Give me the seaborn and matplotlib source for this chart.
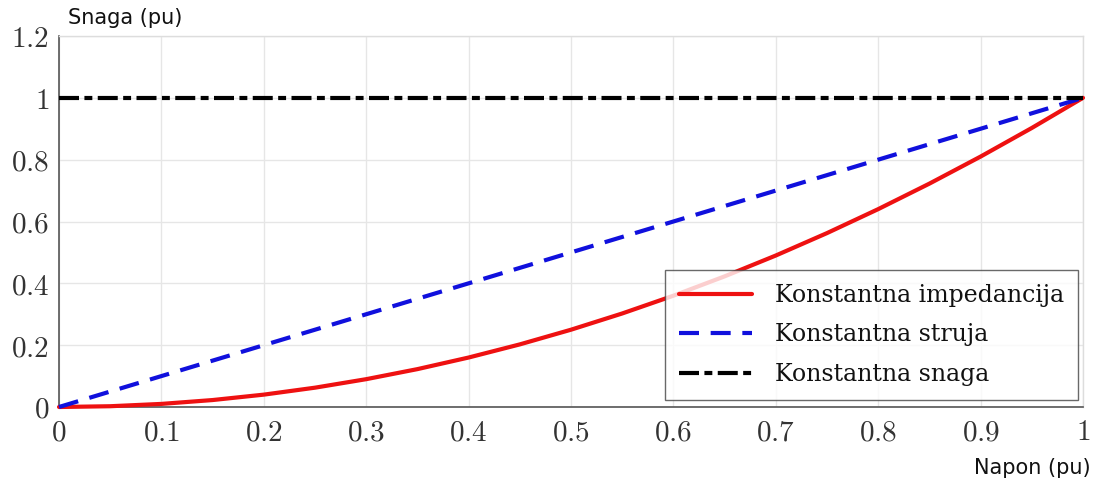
import matplotlib
matplotlib.use("Agg")
import matplotlib.pyplot as plt
import seaborn as sns
import pandas as pd

# Data
napon = [0.0, 0.05, 0.1, 0.15, 0.2, 0.25, 0.3, 0.35, 0.4, 0.45, 0.5,
         0.55, 0.6, 0.65, 0.7, 0.75, 0.8, 0.85, 0.9, 0.95, 1.0]
konst_impedancija = [0.0, 0.0025, 0.01, 0.0225, 0.04, 0.0625, 0.09, 0.1225, 0.16, 0.2025, 0.25,
                     0.3025, 0.36, 0.4225, 0.49, 0.5625, 0.64, 0.7225, 0.81, 0.9025, 1.0]
konst_struja = [0.0, 0.05, 0.1, 0.15, 0.2, 0.25, 0.3, 0.35, 0.4, 0.45, 0.5,
                0.55, 0.6, 0.65, 0.7, 0.75, 0.8, 0.85, 0.9, 0.95, 1.0]
konst_snaga = [1.0] * len(napon)

labels = ["Konstantna impedancija", "Konstantna struja", "Konstantna snaga"]
x_ticks = [0, 0.1, 0.2, 0.3, 0.4, 0.5, 0.6, 0.7, 0.8, 0.9, 1]
x_tick_labels = ["0", "0.1", "0.2", "0.3", "0.4", "0.5", "0.6", "0.7", "0.8", "0.9", "1"]
y_ticks = [0, 0.2, 0.4, 0.6, 0.8, 1, 1.2]
y_tick_labels = ["0", "0.2", "0.4", "0.6", "0.8", "1", "1.2"]

df = pd.DataFrame({"Napon": napon, labels[0]: konst_impedancija,
                   labels[1]: konst_struja, labels[2]: konst_snaga})

sns.set_style("white")
plt.rcParams["mathtext.fontset"] = "cm"

fig = plt.figure(figsize=(11.01, 4.87), dpi=100)
ax = fig.add_axes([59 / 1101, 1 - 407 / 487, (1083 - 59) / 1101, (407 - 36) / 487])

lw = 3.0
sns.lineplot(data=df, x="Napon", y=labels[0], ax=ax, color="#ee1111", lw=lw,
             label=labels[0], clip_on=False, zorder=3)
sns.lineplot(data=df, x="Napon", y=labels[1], ax=ax, color="#1010dd", lw=lw,
             label=labels[1], clip_on=False, zorder=4)
sns.lineplot(data=df, x="Napon", y=labels[2], ax=ax, color="black", lw=lw,
             label=labels[2], clip_on=False, zorder=5)
lines = ax.get_lines()
lines[1].set_dashes((4.8, 2.8))
lines[2].set_dashes((4.8, 1.3, 1.9, 1.3))

ax.set_xlim(0, 1)
ax.set_ylim(0, 1.2)
ax.set_xticks(x_ticks)
ax.set_xticklabels(["$" + t + "$" for t in x_tick_labels])
ax.set_yticks(y_ticks)
ax.set_yticklabels(["$" + t + "$" for t in y_tick_labels])
ax.tick_params(axis="both", direction="in", length=5, width=1, color="#555555",
               labelsize=21, labelcolor="#333333")
ax.tick_params(axis="x", pad=8)
ax.tick_params(axis="y", pad=7)
ax.grid(True, color="#e6e6e6", lw=1)
ax.set_axisbelow(True)
for s in ["left", "bottom"]:
    ax.spines[s].set_color("#555555")
    ax.spines[s].set_linewidth(1.2)
for s in ["top", "right"]:
    ax.spines[s].set_color("#dddddd")
    ax.spines[s].set_linewidth(1.0)

ax.set_xlabel("")
ax.set_ylabel("")
fig.text(68 / 1101, 1 - 18 / 487, "Snaga (pu)", fontsize=15, family="DejaVu Sans",
         va="center", ha="left", color="#111111")
fig.text(1091 / 1101, 1 - 468 / 487, "Napon (pu)", fontsize=15, family="DejaVu Sans",
         va="center", ha="right", color="#111111")

leg = ax.legend(loc="lower right", bbox_to_anchor=(1078 / 1101, 1 - 400 / 487),
                bbox_transform=fig.transFigure, frameon=True, fancybox=False,
                borderaxespad=0.0,
                prop={"family": "DejaVu Serif", "size": 17}, handlelength=3.1,
                handletextpad=0.95, labelspacing=0.7, borderpad=0.6)
leg.get_frame().set_edgecolor("#444444")
leg.get_frame().set_linewidth(1.0)
leg.set_zorder(10)
for t in leg.get_texts():
    t.set_color("#111111")

fig.savefig("out.png", dpi=100, facecolor="white")
